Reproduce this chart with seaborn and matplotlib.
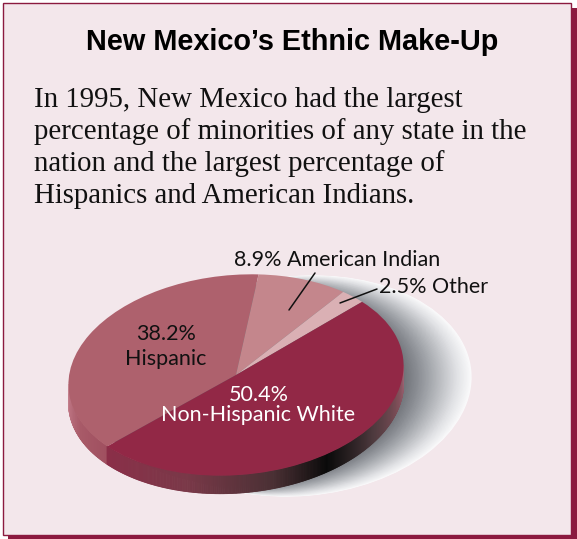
import numpy as np
import matplotlib
matplotlib.use("Agg")
import matplotlib.pyplot as plt
from matplotlib.transforms import Affine2D
from matplotlib.patches import Circle, Rectangle
from matplotlib.collections import PolyCollection
from matplotlib.colors import to_rgb, LinearSegmentedColormap
import seaborn as sns

# ---------------- data ----------------
groups = ["Hispanic", "American Indian", "Other", "Non-Hispanic White"]
shares = [38.2, 8.9, 2.5, 50.4]
slice_colors = ["#AE616D", "#C4868C", "#DAB0B4", "#922846"]
title = "New Mexico\u2019s Ethnic Make-Up"
para_lines = [
    "In 1995, New Mexico had the largest",
    "percentage of minorities of any state in the",
    "nation and the largest percentage of",
    "Hispanics and American Indians.",
]

sns.set_theme(style="white")
plt.rcParams['font.family'] = ['DejaVu Sans']

W, H = 577, 539
fig = plt.figure(figsize=(W / 100, H / 100), dpi=100)
fig.patch.set_facecolor("white")
ax = fig.add_axes([0, 0, 1, 1])

# pie geometry (pixels)
cx, cy, a, b, tilt, depth = 236, 375, 168, 100, 5, 18
def ell_tf(x0, y0, aa, bb):
    return Affine2D().scale(aa, bb).rotate_deg(tilt).scale(1, -1).translate(x0, y0)

# pie (top face)
start = 216.8
wedges, _ = ax.pie(shares, colors=slice_colors, startangle=start, counterclock=False,
                   wedgeprops=dict(linewidth=0))
T = ell_tf(cx, cy, a, b) + ax.transData
for w in wedges:
    w.set_transform(T)
    w.set_zorder(5)

ax.set_aspect('auto')
ax.set_xlim(0, W)
ax.set_ylim(H, 0)
ax.axis('off')

# frame box with shadow
ax.add_patch(Rectangle((8, 8), W - 8, H - 8, facecolor="#8B1A3F", edgecolor="none", zorder=0))
ax.add_patch(Rectangle((3, 3), 568, 532, facecolor="#F3E7EB", edgecolor="#8B1A3F",
                       linewidth=1.0, zorder=0.5))

# drop shadow: nested ellipses graded from white to grey
N = 90
cmap = LinearSegmentedColormap.from_list(
    "sh", ["#FAFAFB", "#E2E3E6", "#C3C5C9", "#A4A7AC", "#878A90", "#6E7177"])
for i in range(N):
    f = i / (N - 1)
    sx = 300 + (248 - 300) * f
    sy = 386
    sa = 172 + (155 - 172) * f
    sb = 110 + (98 - 110) * f
    c = Circle((0, 0), 1, facecolor=cmap(f), edgecolor="none",
               transform=ell_tf(sx, sy, sa, sb) + ax.transData, zorder=1)
    ax.add_patch(c)

# pie side (extrusion)
def side_color(t):
    if t < start:
        stops = [(177, "#E2B4BB"), (183, "#C07886"), (200, "#A85A68"), (start, "#A05060")]
    else:
        stops = [(start, "#8B2E48"), (250, "#7A3848"), (280, "#4A3034"), (300, "#0A0A0A"),
                 (322, "#4E3A3E"), (342, "#7E4E58"), (357, "#9A6070")]
    for (t0, c0), (t1, c1) in zip(stops[:-1], stops[1:]):
        if t0 <= t <= t1:
            f = (t - t0) / (t1 - t0) if t1 > t0 else 0
            return tuple(np.array(to_rgb(c0)) * (1 - f) + np.array(to_rgb(c1)) * f)
    return to_rgb(stops[-1][1])

ts = np.linspace(177, 357, 400)
tfm = ell_tf(cx, cy, a, b)
pts = tfm.transform(np.column_stack([np.cos(np.radians(ts)), np.sin(np.radians(ts))]))
polys, cols = [], []
for i in range(len(ts) - 1):
    p0, p1 = pts[i], pts[i + 1]
    polys.append([p0, p1, p1 + [0, depth], p0 + [0, depth]])
    cols.append(side_color(0.5 * (ts[i] + ts[i + 1])))
ax.add_collection(PolyCollection(polys, facecolors=cols, edgecolors=cols, linewidths=0.6, zorder=3))

# title & paragraph
ax.text(292, 50, title, ha="center", va="baseline", fontsize=20.8, fontweight="bold",
        family="Liberation Sans", color="black", zorder=10)
for k, line in enumerate(para_lines):
    ax.text(34, 107 + 32 * k, line, ha="left", va="baseline", fontsize=20.8,
            family="Liberation Serif", color="#111111", zorder=10)

# slice labels
lab_font = dict(family="Lato", fontsize=15.5, fontweight="normal", zorder=10)
ax.text(166, 340, f"{shares[0]:.1f}%", ha="center", va="baseline", color="#111111", **lab_font)
ax.text(166, 365, groups[0], ha="center", va="baseline", color="#111111", **lab_font)
ax.text(259, 401, f"{shares[3]:.1f}%", ha="center", va="baseline", color="white", **lab_font)
ax.text(258, 421, groups[3], ha="center", va="baseline", color="white", **lab_font)
ax.text(337, 266, f"{shares[1]:.1f}% {groups[1]}", ha="center", va="baseline", color="#111111", **lab_font)
ax.text(434, 293, f"{shares[2]:.1f}% {groups[2]}", ha="center", va="baseline", color="#111111", **lab_font)
ax.plot([315, 289], [273, 310], color="#111111", lw=1.1, zorder=10)
ax.plot([377, 340], [289, 303], color="#111111", lw=1.1, zorder=10)

fig.savefig("out.png", dpi=100, facecolor=fig.get_facecolor())
